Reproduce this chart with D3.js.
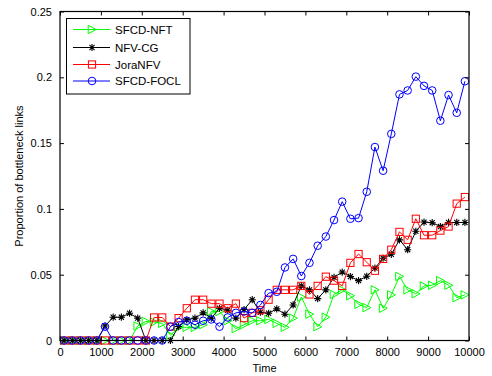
<!DOCTYPE html>
<html>
<head>
<meta charset="utf-8">
<script src="https://cdn.jsdelivr.net/npm/d3@7"></script>
<style>
  html, body { margin: 0; padding: 0; background: #fff; }
  svg { display: block; }
  text { font-family: "Liberation Sans", Arial, Helvetica, sans-serif; fill: #000; }
</style>
</head>
<body>
<svg id="chart" width="492" height="376"></svg>
<script>
// Sampling instants (Time)
const times = [100, 300, 500, 700, 900, 1100, 1300, 1500, 1700, 1900,
               2100, 2300, 2500, 2700, 2900, 3100, 3300, 3500, 3700, 3900,
               4100, 4300, 4500, 4700, 4900, 5100, 5300, 5500, 5700, 5900,
               6100, 6300, 6500, 6700, 6900, 7100, 7300, 7500, 7700, 7900,
               8100, 8300, 8500, 8700, 8900, 9100, 9300, 9500, 9700, 9900];

// Proportion of bottleneck links per method
const sfcdNft = [0, 0, 0, 0, 0, 0, 0, 0, 0, 0.011,
                 0.0145, 0.014, 0.013, 0.004, 0.010, 0.010, 0.010, 0.012, 0.022, 0.022,
                 0.015, 0.009, 0.012, 0.015, 0.015, 0.016, 0.013, 0.010, 0.017, 0.033,
                 0.020, 0.0105, 0.0177, 0.035, 0.0385, 0.034, 0.0275, 0.025, 0.0385, 0.0245,
                 0.0347, 0.0487, 0.0385, 0.0355, 0.0415, 0.042, 0.0455, 0.042, 0.0325, 0.0347];
const nfvCg = [0, 0, 0, 0, 0, 0.011, 0.0177, 0.0177, 0.0207, 0.017,
               0, 0, 0, 0, 0.0106, 0.0157, 0.017, 0.021, 0.017, 0.0245,
               0.023, 0.017, 0.0235, 0.031, 0.0215, 0.0207, 0.024, 0.020, 0.027, 0.0415,
               0.0385, 0.0318, 0.0385, 0.048, 0.052, 0.0486, 0.0455, 0.0488, 0.055, 0.0625,
               0.0655, 0.0765, 0.069, 0.083, 0.090, 0.0895, 0.0866, 0.0897, 0.0897, 0.0897];
const joraNfv = [0, 0, 0, 0, 0, 0, 0, 0, 0, 0,
                 0, 0.0175, 0.0175, 0.0106, 0.017, 0.0245, 0.031, 0.031, 0.028, 0.028,
                 0.0245, 0.028, 0.017, 0.021, 0.023, 0.031, 0.0385, 0.0385, 0.0385, 0.0415,
                 0.035, 0.0415, 0.0485, 0.0455, 0.0415, 0.059, 0.0657, 0.0595, 0.053, 0.062,
                 0.069, 0.0825, 0.0765, 0.0925, 0.080, 0.080, 0.0835, 0.0866, 0.104, 0.109];
const sfcdFocl = [0, 0, 0, 0, 0, 0.0105, 0, 0, 0, 0,
                  0, 0, 0, 0.0105, 0.014, 0.015, 0.012, 0.015, 0.016, 0.0105,
                  0.0175, 0.021, 0.022, 0.021, 0.027, 0.036, 0.037, 0.0555, 0.062, 0.049,
                  0.059, 0.072, 0.079, 0.0915, 0.1055, 0.0925, 0.093, 0.113, 0.147, 0.129,
                  0.157, 0.187, 0.190, 0.2005, 0.1935, 0.190, 0.167, 0.1865, 0.173, 0.197];

const seriesNames = ["SFCD-NFT", "NFV-CG", "JoraNFV", "SFCD-FOCL"];
const xTicks = [0, 1000, 2000, 3000, 4000, 5000, 6000, 7000, 8000, 9000, 10000];
const yTicks = [0, 0.05, 0.1, 0.15, 0.2, 0.25];
const xTitle = "Time";
const yTitle = "Proportion of bottleneck links";

const seriesValues = [sfcdNft, nfvCg, joraNfv, sfcdFocl];
const seriesColors = ["#00ff00", "#000000", "#ff0000", "#0000ff"];
const seriesMarkers = ["triangleRight", "star", "square", "circle"];

const svg = d3.select("#chart");
const plot = { left: 60, right: 469, top: 11.5, bottom: 340.5 };

const x = d3.scaleLinear().domain([0, 10000]).range([plot.left, plot.right]);
const y = d3.scaleLinear().domain([0, 0.25]).range([plot.bottom, plot.top]);

// white plotting area
svg.append("rect")
  .attr("x", plot.left).attr("y", plot.top)
  .attr("width", plot.right - plot.left).attr("height", plot.bottom - plot.top)
  .attr("fill", "#fff");

// marker shapes
function drawMarker(g, kind, color) {
  if (kind === "circle") {
    g.append("circle").attr("r", 3.8).attr("fill", "none").attr("stroke", color).attr("stroke-width", 1);
  } else if (kind === "square") {
    g.append("rect").attr("x", -3.6).attr("y", -3.6).attr("width", 7.2).attr("height", 7.2)
      .attr("fill", "none").attr("stroke", color).attr("stroke-width", 1);
  } else if (kind === "triangleRight") {
    g.append("path").attr("d", "M-3.8,-4.2L4.2,0L-3.8,4.2Z")
      .attr("fill", "none").attr("stroke", color).attr("stroke-width", 1);
  } else if (kind === "star") {
    const r = 3.6, d = r * Math.SQRT1_2;
    g.append("path")
      .attr("d", `M${-r},0L${r},0M0,${-r}L0,${r}M${-d},${-d}L${d},${d}M${-d},${d}L${d},${-d}`)
      .attr("fill", "none").attr("stroke", color).attr("stroke-width", 1.1);
  }
}

const line = d3.line().x((d, i) => x(times[i])).y(d => y(d));

const clip = svg.append("defs").append("clipPath").attr("id", "plotclip")
  .append("rect").attr("x", plot.left - 6).attr("y", plot.top).attr("width", plot.right - plot.left + 6).attr("height", plot.bottom - plot.top + 6);

const dataLayer = svg.append("g");
seriesValues.forEach((vals, s) => {
  const g = dataLayer.append("g");
  g.append("path").datum(vals).attr("d", line)
    .attr("fill", "none").attr("stroke", seriesColors[s]).attr("stroke-width", 1);
  g.selectAll("g.m").data(vals).join("g").attr("class", "m")
    .attr("transform", (d, i) => `translate(${x(times[i])},${y(d)})`)
    .each(function () { drawMarker(d3.select(this), seriesMarkers[s], seriesColors[s]); });
});

// axes with inward ticks on all four sides
const tickLen = 4;
const axisBottom = svg.append("g").attr("transform", `translate(0,${plot.bottom})`)
  .call(d3.axisBottom(x).tickValues(xTicks).tickSizeInner(-tickLen).tickSizeOuter(0).tickPadding(8).tickFormat(d3.format("d")));
const axisTop = svg.append("g").attr("transform", `translate(0,${plot.top})`)
  .call(d3.axisTop(x).tickValues(xTicks).tickSizeInner(-tickLen).tickSizeOuter(0).tickFormat(""));
const axisLeft = svg.append("g").attr("transform", `translate(${plot.left},0)`)
  .call(d3.axisLeft(y).tickValues(yTicks).tickSizeInner(-tickLen).tickSizeOuter(0).tickPadding(8).tickFormat(d => d === 0 ? "0" : d3.format("")(+d.toFixed(2))));
const axisRight = svg.append("g").attr("transform", `translate(${plot.right},0)`)
  .call(d3.axisRight(y).tickValues(yTicks).tickSizeInner(-tickLen).tickSizeOuter(0).tickFormat(""));

[axisBottom, axisTop, axisLeft, axisRight].forEach(a => {
  a.select(".domain").remove();
  a.selectAll("line").attr("stroke", "#000").attr("stroke-width", 1);
  a.selectAll("text").attr("font-size", "11px").attr("font-family", "Liberation Sans, Arial, sans-serif").attr("fill", "#000");
});

// frame
svg.append("rect")
  .attr("x", plot.left).attr("y", plot.top)
  .attr("width", plot.right - plot.left).attr("height", plot.bottom - plot.top)
  .attr("fill", "none").attr("stroke", "#000").attr("stroke-width", 1.2);

// axis titles
svg.append("text").attr("x", (plot.left + plot.right) / 2).attr("y", 372)
  .attr("text-anchor", "middle").attr("font-size", "11px").text(xTitle);
svg.append("text")
  .attr("transform", `translate(23,${(plot.top + plot.bottom) / 2}) rotate(-90)`)
  .attr("text-anchor", "middle").attr("font-size", "11px").text(yTitle);

// legend
const legend = svg.append("g");
legend.append("rect").attr("x", 66.5).attr("y", 18.5).attr("width", 123.5).attr("height", 75.5)
  .attr("fill", "#fff").attr("stroke", "#000").attr("stroke-width", 1);
const rowY = [29.5, 47.5, 64.5, 81];
seriesNames.forEach((name, s) => {
  const row = legend.append("g").attr("transform", `translate(0,${rowY[s]})`);
  row.append("line").attr("x1", 73).attr("x2", 110).attr("y1", 0).attr("y2", 0)
    .attr("stroke", seriesColors[s]).attr("stroke-width", 1);
  drawMarker(row.append("g").attr("transform", "translate(92,0)"), seriesMarkers[s], seriesColors[s]);
  row.append("text").attr("x", 115).attr("y", 0).attr("dy", "0.36em")
    .attr("font-size", "11.5px").text(name);
});
</script>
</body>
</html>
